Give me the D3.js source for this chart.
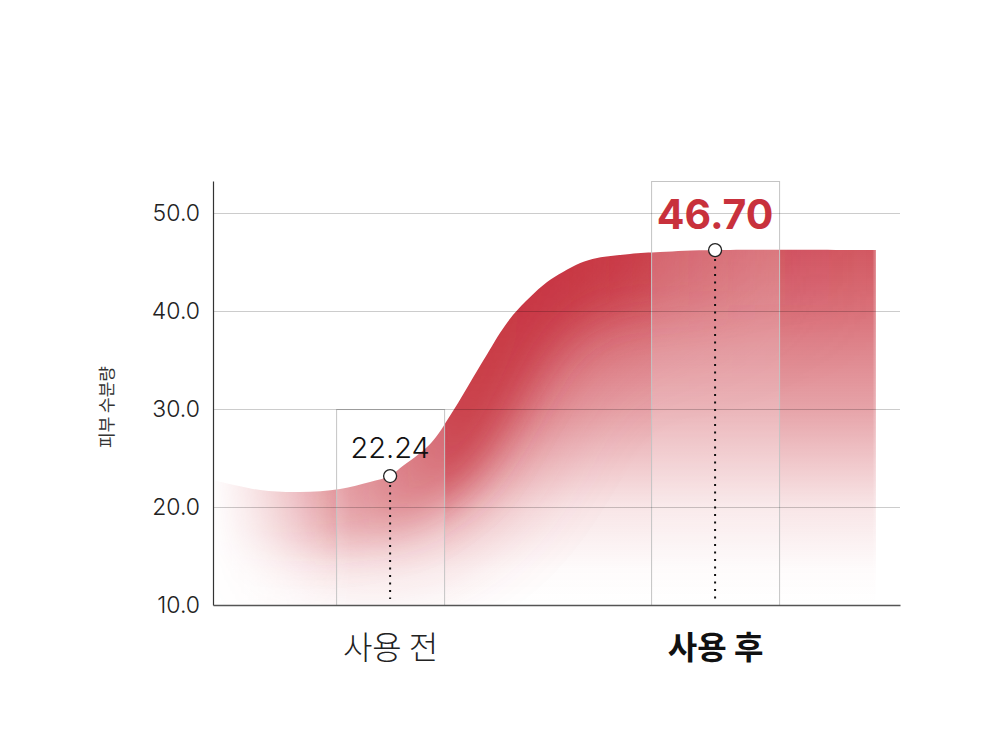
<!DOCTYPE html>
<html>
<head>
<meta charset="utf-8">
<script src="https://cdn.jsdelivr.net/npm/d3@7"></script>
<style>
  body { margin: 0; background: #fff; }
  svg { display: block; }
</style>
</head>
<body>
<div id="chart"></div>
<script>
// categories sit at x = 0 (before) and x = 1 (after)
const categories = ["사용 전", "사용 후"];
const valueLabels = ["22.24", "46.70"];
const yTicks = [10, 20, 30, 40, 50];

// smooth moisture curve
const curveX = [-0.545, -0.4, -0.277, -0.154, -0.062, 0, 0.031, 0.077, 0.117, 0.148, 0.178, 0.209, 0.24,
                0.271, 0.308, 0.338, 0.378, 0.431, 0.483, 0.532, 0.585, 0.637, 0.738, 0.831, 1, 1.495];
const curveY = [22.76, 21.73, 21.53, 21.84, 22.55, 23.16, 23.98, 25.1, 26.22, 27.45, 28.98, 30.61, 32.35,
                34.08, 36.12, 37.76, 39.59, 41.43, 42.96, 43.98, 44.9, 45.41, 45.82, 46.02, 46.22, 46.22];

const W = 1000, H = 737;
const plotLeft = 213, plotRight = 900, plotTop = 181, plotBottom = 605;

const svg = d3.select("#chart").append("svg")
    .attr("width", W)
    .attr("height", H);

const x = d3.scaleLinear().domain([-0.545, 1.569]).range([plotLeft, plotRight]);
const y = d3.scaleLinear().domain([10, 53.27]).range([plotBottom, plotTop]);

const pts = curveX.map((d, i) => ({x: d, y: curveY[i]}));

const area = d3.area()
    .x(d => x(d.x))
    .y0(plotBottom)
    .y1(d => y(d.y))
    .curve(d3.curveCatmullRom.alpha(0.5));
const line = d3.line()
    .x(d => x(d.x))
    .y(d => y(d.y))
    .curve(d3.curveCatmullRom.alpha(0.5));

const defs = svg.append("defs");

defs.append("clipPath").attr("id", "areaClip")
    .append("path").attr("d", area(pts));

// vertical fade of the fill
const base = defs.append("linearGradient").attr("id", "baseGrad")
    .attr("gradientUnits", "userSpaceOnUse")
    .attr("x1", 0).attr("x2", 0).attr("y1", y(46.5)).attr("y2", plotBottom);
[[0, 0.8], [0.17, 0.69], [0.45, 0.45], [0.72, 0.13], [0.9, 0.02], [1, 0]].forEach(s => {
    base.append("stop").attr("offset", s[0]).attr("stop-color", "#c8323e").attr("stop-opacity", s[1]);
});

// glow under the rising part of the curve
const glow = defs.append("linearGradient").attr("id", "glowGrad")
    .attr("gradientUnits", "userSpaceOnUse")
    .attr("x1", plotLeft).attr("x2", plotRight).attr("y1", 0).attr("y2", 0);
[[0, 0.2], [0.2, 0.5], [0.36, 1], [0.55, 0.85], [0.8, 0.1], [1, 0]].forEach(s => {
    glow.append("stop").attr("offset", s[0]).attr("stop-color", "#c42a37").attr("stop-opacity", s[1]);
});

defs.append("filter").attr("id", "blur")
    .attr("x", "-20%").attr("y", "-50%").attr("width", "140%").attr("height", "200%")
    .append("feGaussianBlur").attr("stdDeviation", 22);
defs.append("filter").attr("id", "wideBlur")
    .attr("x", "-30%").attr("y", "-80%").attr("width", "160%").attr("height", "260%")
    .append("feGaussianBlur").attr("stdDeviation", 40);

// fade at the left and right ends
const fadeGrad = defs.append("linearGradient").attr("id", "fadeGrad")
    .attr("gradientUnits", "userSpaceOnUse")
    .attr("x1", plotLeft).attr("x2", plotRight).attr("y1", 0).attr("y2", 0);
[[0, 0.03], [0.2, 1], [0.96, 1], [0.967, 0.6]].forEach(s => {
    fadeGrad.append("stop").attr("offset", s[0]).attr("stop-color", "#fff").attr("stop-opacity", s[1]);
});
defs.append("mask").attr("id", "fade")
    .attr("maskUnits", "userSpaceOnUse")
    .attr("x", 0).attr("y", 0).attr("width", W).attr("height", H)
    .append("rect")
    .attr("x", 0).attr("y", 0).attr("width", W).attr("height", H)
    .attr("fill", "url(#fadeGrad)");

// FILL
const fill = svg.append("g")
    .attr("clip-path", "url(#areaClip)")
    .attr("mask", "url(#fade)");
fill.append("rect")
    .attr("x", plotLeft).attr("y", plotTop)
    .attr("width", plotRight - plotLeft).attr("height", plotBottom - plotTop)
    .attr("fill", "url(#baseGrad)");
fill.append("path")
    .attr("d", line(pts))
    .attr("fill", "none")
    .attr("stroke", "url(#glowGrad)")
    .attr("stroke-width", 200)
    .attr("opacity", 0.3)
    .attr("filter", "url(#wideBlur)");
fill.append("path")
    .attr("d", line(pts))
    .attr("fill", "none")
    .attr("stroke", "url(#glowGrad)")
    .attr("stroke-width", 110)
    .attr("opacity", 0.75)
    .attr("filter", "url(#blur)");

// highlight boxes
const boxW = [108, 128];
const boxTop = [30, 53.27];
svg.selectAll(".box").data(categories).enter().append("rect")
    .attr("class", "box")
    .attr("x", (d, i) => x(i) - boxW[i] / 2 + 0.5)
    .attr("y", (d, i) => y(boxTop[i]) + 0.5)
    .attr("width", (d, i) => boxW[i])
    .attr("height", (d, i) => plotBottom - y(boxTop[i]))
    .attr("fill", "#fff")
    .attr("fill-opacity", 0.2)
    .attr("stroke", "#c4c4c4")
    .attr("stroke-width", 1);

// gridlines
svg.append("g").selectAll("line").data(yTicks.slice(1)).enter().append("line")
    .attr("x1", plotLeft).attr("x2", plotRight)
    .attr("y1", d => Math.round(y(d)) + 0.5).attr("y2", d => Math.round(y(d)) + 0.5)
    .attr("stroke", "#000")
    .attr("stroke-opacity", 0.2);

// Y axis
const yAxis = svg.append("g")
    .attr("transform", "translate(" + plotLeft + ",0)")
    .call(d3.axisLeft(y).tickValues(yTicks).tickFormat(d3.format(".1f")).tickSize(0).tickPadding(13));
yAxis.select(".domain").attr("stroke", "#333").attr("stroke-width", 1.2);
yAxis.selectAll("text")
    .style("font-family", "Inter, 'Noto Sans', sans-serif")
    .style("font-size", "23px")
    .style("font-weight", 300)
    .attr("fill", "#222");

// X axis
const xAxis = svg.append("g")
    .attr("transform", "translate(0," + plotBottom + ")")
    .call(d3.axisBottom(x).tickValues([0, 1]).tickFormat(i => categories[i]).tickSize(0).tickPadding(31));
xAxis.select(".domain").attr("stroke", "#555").attr("stroke-width", 1.6);
xAxis.selectAll("text")
    .style("font-family", "'Noto Sans CJK KR', sans-serif")
    .style("font-size", "32px")
    .style("font-weight", (d, i) => i === 1 ? 700 : 300)
    .attr("fill", (d, i) => i === 1 ? "#111" : "#222");

// Y AXIS LABEL
svg.append("text")
    .attr("transform", "translate(113,407) rotate(-90)")
    .attr("text-anchor", "middle")
    .style("font-family", "'Noto Sans CJK KR', sans-serif")
    .style("font-size", "17px")
    .attr("fill", "#333")
    .text("피부 수분량");

// markers on the curve
const marks = categories.map((c, i) => pts.find(p => p.x === i));

svg.selectAll(".drop").data(marks).enter().append("line")
    .attr("class", "drop")
    .attr("x1", d => x(d.x)).attr("x2", d => x(d.x))
    .attr("y1", d => y(d.y) + 9).attr("y2", plotBottom - 6)
    .attr("stroke", "#111")
    .attr("stroke-width", 2)
    .attr("stroke-dasharray", "2,5.5");

svg.selectAll(".dot").data(marks).enter().append("circle")
    .attr("class", "dot")
    .attr("cx", d => x(d.x))
    .attr("cy", d => y(d.y))
    .attr("r", 6.5)
    .attr("fill", "#fff")
    .attr("stroke", "#222")
    .attr("stroke-width", 1.3);

// value labels
svg.append("text")
    .attr("x", x(0)).attr("y", 458)
    .attr("text-anchor", "middle")
    .style("font-family", "Inter, sans-serif")
    .style("font-size", "29px")
    .style("font-weight", 300)
    .attr("fill", "#111")
    .text(valueLabels[0]);

svg.append("text")
    .attr("x", x(1)).attr("y", 229)
    .attr("text-anchor", "middle")
    .style("font-family", "Inter, sans-serif")
    .style("font-size", "41px")
    .style("font-weight", 700)
    .attr("fill", "#c8313c")
    .text(valueLabels[1]);
</script>
</body>
</html>
